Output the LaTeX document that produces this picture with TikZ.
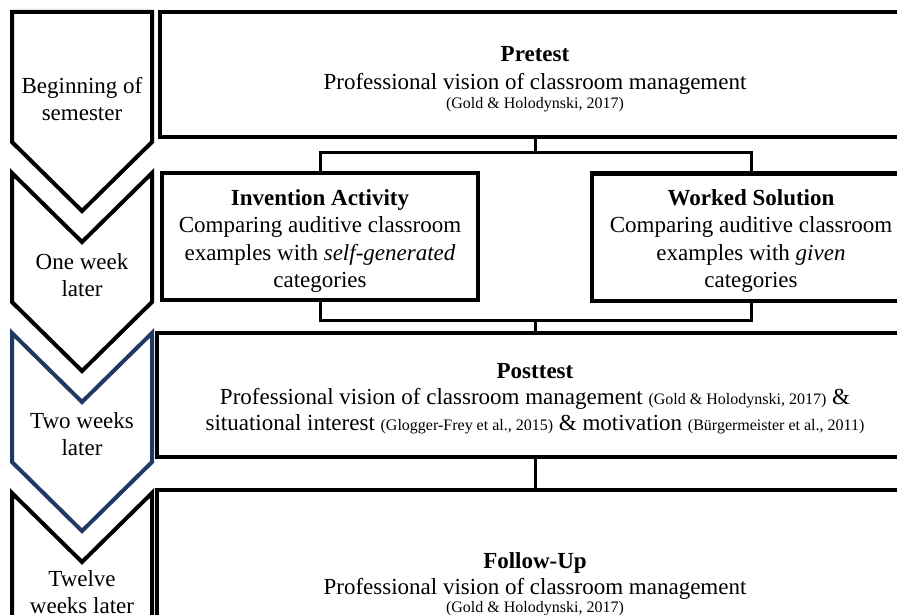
\documentclass[tikz,border=0pt]{standalone}
\usepackage{fontspec}
\setmainfont{Liberation Serif}
\definecolor{navy}{RGB}{31,56,100}
\newcommand\refsm[1]{{\fontsize{16}{19}\selectfont #1}}
\begin{document}
\begin{tikzpicture}[x=1pt,y=-1pt,
  chev/.style={draw=black,line width=4pt,line join=miter,fill=white},
  chevtext/.style={align=center,font=\fontsize{23}{26.5}\selectfont,inner sep=0pt},
  box/.style={draw=black,line width=4pt,fill=white,outer sep=0pt,inner sep=0pt},
  boxtext/.style={align=center,inner sep=0pt},
  conn/.style={draw=black,line width=3pt}]
\clip (0,0) rectangle (897,615);
\fill[white] (0,0) rectangle (897,615);
% chevrons
\draw[chev] (12,12) -- (152,12) -- (152,142) -- (82,211) -- (12,142) -- cycle;
\draw[chev] (12,173) -- (82,242) -- (152,173) -- (152,302) -- (82,371) -- (12,302) -- cycle;
\draw[chev,draw=navy] (12,333) -- (82,402) -- (152,333) -- (152,462) -- (82,531) -- (12,462) -- cycle;
\draw[chev] (12,493) -- (82,562) -- (152,493) -- (152,622) -- (82,691) -- (12,622) -- cycle;
\node[chevtext] (t1) at (82,99) {Beginning of\\semester};
\node[chevtext] (t2) at (82,275) {One week\\later};
\node[chevtext] (t3) at (82,434) {Two weeks\\later};
\node[chevtext] (t4) at (82,592) {Twelve\\weeks later};
% boxes
\node[box,minimum width=750,minimum height=125] (pre) at (535,74.5) {};
\node[box,minimum width=316,minimum height=127] (inv) at (320,236.5) {};
\node[box,minimum width=318,minimum height=127] (ws) at (751,237) {};
\node[box,minimum width=756,minimum height=124] (post) at (535,395) {};
\node[box,minimum width=756,minimum height=127.5] (fu) at (535,553.75) {};
% box texts
\node[boxtext,font=\fontsize{23}{28}\selectfont] (pretxt) at (535,79.6)
  {{\bfseries Pretest}\\Professional vision of classroom management\\[-9pt]\refsm{(Gold \& Holodynski, 2017)}};
\node[boxtext,font=\fontsize{23}{27.5}\selectfont] (invtxt) at (320,241)
  {{\bfseries Invention Activity}\\Comparing auditive classroom\\examples with \emph{self-generated}\\categories};
\node[boxtext,font=\fontsize{23}{27.5}\selectfont] (wstxt) at (751,241)
  {{\bfseries Worked Solution}\\Comparing auditive classroom\\examples with \emph{given}\\categories};
\node[boxtext,font=\fontsize{23}{26}\selectfont] (posttxt) at (535,398.2)
  {{\bfseries Posttest}\\Professional vision of classroom management \refsm{(Gold \& Holodynski, 2017)} \&\\
   situational interest \refsm{(Glogger-Frey et al., 2015)} \& motivation \refsm{(Bürgermeister et al., 2011)}};
\node[boxtext,font=\fontsize{23}{26}\selectfont] (futxt) at (535,584.5)
  {{\bfseries Follow-Up}\\Professional vision of classroom management\\[-8pt]\refsm{(Gold \& Holodynski, 2017)}};
% connectors
\coordinate (bt) at (535,153);
\coordinate (bb) at (535,320);
\draw[conn] (pre.south) -- (bt);
\draw[conn] (inv.north) |- (bt) -| (ws.north);
\draw[conn] (inv.south) |- (bb) -| (ws.south);
\draw[conn] (bb) -- (post.north);
\draw[conn] (post.south) -- (fu.north);
\end{tikzpicture}
\end{document}
